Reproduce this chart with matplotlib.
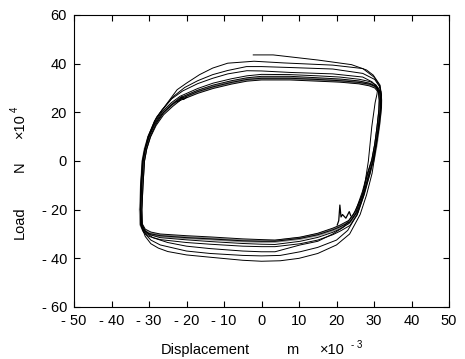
import matplotlib.pyplot as plt

plt.rcParams['font.family'] = ['Liberation Sans', 'DejaVu Sans']

# outer cycles (displacement x1e-3 m, load x1e4 N)
loop1_x = [31.5, 30.0, 27.0, 19.0, 6.0, -2.0, -9.0, -13.0, -16.5, -20.0, -22.5, -26.0, -28.0, -29.8, -31.0, -31.6,
           -32.0, -32.2, -32.0, -31.0, -29.5, -27.5, -25.0, -20.0, -14.0, -5.0, 0.0, 5.0, 10.0, 15.0, 20.0, 23.5,
           26.3, 28.0, 29.5, 30.5, 31.5, 32.0, 32.0, 31.5]
loop1_y = [31.0, 34.5, 38.0, 39.4, 40.3, 41.0, 40.2, 38.2, 35.5, 32.0, 29.3, 22.0, 18.0, 11.0, 5.0, 0.0,
           -10.0, -20.0, -27.0, -31.0, -34.0, -35.8, -37.2, -38.6, -39.5, -40.8, -41.2, -41.0, -40.0, -38.0, -34.5, -30.0,
           -22.0, -14.0, -5.0, 5.0, 15.0, 22.0, 27.0, 31.0]

loop2_x = [31.5, 30.2, 27.0, 19.0, 8.0, 0.0, -4.0, -9.0, -13.0, -17.0, -20.5, -23.5, -26.5, -28.5, -30.2, -31.2,
           -31.7, -32.2, -32.3, -32.0, -31.0, -29.5, -27.0, -20.0, -13.7, -5.0, 0.0, 5.0, 10.3, 15.0, 20.0, 23.0,
           25.5, 27.3, 29.0, 30.3, 31.3, 31.8, 31.9, 31.5]
loop2_y = [30.5, 33.5, 36.0, 37.8, 38.4, 38.8, 38.8, 37.2, 35.5, 33.0, 30.2, 26.5, 21.0, 16.5, 10.0, 4.0,
           0.0, -10.0, -20.0, -26.5, -30.0, -32.5, -34.5, -37.0, -38.0, -38.8, -39.0, -38.8, -37.3, -35.5, -32.5, -28.5,
           -22.0, -14.0, -5.0, 5.0, 15.0, 22.0, 27.0, 30.5]

loop3_x = [31.0, 29.5, 27.0, 19.0, 7.6, 0.0, -3.9, -9.0, -13.0, -17.0, -21.0, -24.0, -26.5, -28.5, -30.3, -31.3,
           -31.8, -32.2, -32.3, -31.8, -30.8, -29.0, -25.0, -20.0, -13.7, -5.0, 0.0, 3.6, 10.3, 15.0, 19.0, 22.0,
           24.5, 26.0, 27.2, 28.5, 29.4, 30.3, 30.8, 31.0]
loop3_y = [30.0, 32.5, 34.5, 35.8, 36.4, 37.0, 37.1, 35.8, 34.0, 31.8, 28.8, 25.5, 21.0, 16.5, 10.0, 4.0,
           0.0, -10.0, -20.0, -26.5, -29.5, -31.5, -33.5, -35.0, -36.0, -37.0, -37.3, -37.3, -34.5, -33.0, -30.0, -27.0,
           -22.0, -17.0, -13.0, 0.0, 14.0, 24.0, 27.5, 30.0]

# dense band of stabilised cycles
band_x1 = [31.5, 30.5, 29.0, 26.0, 20.9, 15.0, 7.6, 0.0, -3.9, -8.0, -12.9, -17.0, -21.7, -24.0, -26.5,
           -28.5, -30.0, -31.0, -31.6, -32.0, -32.3, -32.2, -31.5, -30.0, -27.0, -20.0, -13.7, -5.0, 0.0,
           3.6, 10.3, 15.0, 19.0, 21.0, 23.6, 25.5, 27.3, 28.5, 29.8, 30.6, 31.2, 31.7, 31.8, 31.5]
band_x2 = [31.2, 30.2, 28.7, 26.0, 20.9, 15.0, 7.6, 0.0, -3.9, -8.0, -12.9, -17.0, -21.7, -23.7, -26.1,
           -28.1, -29.6, -30.6, -31.2, -31.6, -31.9, -31.8, -31.0, -29.5, -27.0, -20.0, -13.7, -5.0, 0.0,
           3.6, 10.3, 15.0, 19.0, 21.0, 23.3, 25.1, 26.9, 28.1, 29.4, 30.2, 30.8, 31.3, 31.4, 31.2]
band_a_y = [29.0, 31.3, 32.6, 33.6, 34.5, 35.0, 35.5, 35.6, 35.0, 33.8, 32.0, 29.8, 26.6, 24.0, 20.3,
            15.6, 10.4, 5.2, 0.0, -10.0, -20.0, -26.5, -29.2, -31.0, -32.3, -33.5, -34.2, -35.0, -35.2,
            -35.2, -34.0, -32.5, -30.3, -28.8, -26.5, -22.2, -14.0, -6.8, 0.0, 7.0, 14.0, 21.0, 25.2, 29.0]
band_b_y = [28.8, 30.9, 32.0, 32.9, 33.7, 34.2, 34.8, 34.8, 34.2, 33.0, 31.2, 29.1, 26.0, 23.5, 19.9,
            15.3, 10.2, 5.1, 0.0, -10.0, -20.0, -26.2, -28.8, -30.4, -31.5, -32.4, -33.1, -33.9, -34.2,
            -34.3, -33.0, -31.4, -29.3, -27.9, -25.7, -21.6, -13.5, -6.4, 0.2, 7.0, 14.0, 21.0, 25.1, 28.8]
band_c_y = [28.5, 30.5, 31.5, 32.3, 33.0, 33.5, 34.0, 34.0, 33.5, 32.3, 30.5, 28.5, 25.5, 23.0, 19.5,
            15.0, 10.0, 5.0, 0.0, -10.0, -20.0, -26.0, -28.4, -29.8, -30.7, -31.5, -32.0, -32.8, -33.0,
            -33.0, -31.8, -30.3, -28.3, -27.0, -25.0, -21.0, -13.0, -6.0, 0.4, 7.0, 14.0, 21.0, 25.0, 28.5]
band_d_y = [28.2, 30.0, 30.9, 31.7, 32.4, 32.8, 33.3, 33.3, 32.8, 31.6, 29.8, 27.8, 24.9, 22.4, 19.0,
            14.6, 9.8, 4.9, 0.0, -10.0, -20.0, -25.8, -28.0, -29.2, -30.0, -30.7, -31.2, -32.0, -32.3,
            -32.5, -31.3, -29.7, -27.6, -26.3, -24.4, -20.5, -12.6, -5.7, 0.6, 7.0, 14.0, 21.0, 24.8, 28.2]

# first loading path and local jumps
init_x = [-2.2, 3.1, 15.0, 24.0, 28.0, 29.8, 31.6, 32.0]
init_y = [43.6, 43.6, 41.5, 39.6, 37.4, 35.3, 31.2, 27.0]
spike_x = [20.2, 20.6, 20.9, 21.2, 21.6, 22.5, 23.4, 23.8]
spike_y = [-26.3, -24.5, -18.1, -23.0, -22.0, -23.5, -20.8, -22.5]
jag_x = [-22.5, -21.6, -21.3, -20.8, -20.0]
jag_y = [24.3, 25.0, 26.4, 25.3, 26.2]

x_ticks = [-50, -40, -30, -20, -10, 0, 10, 20, 30, 40, 50]
y_ticks = [-60, -40, -20, 0, 20, 40, 60]


def tick_text(v):
    return '- %d' % -v if v < 0 else '%d' % v


fig = plt.figure(figsize=(4.65, 3.59), dpi=100)
ax = fig.add_axes([74 / 465, 1 - 307 / 359, 375 / 465, 292 / 359])

lw = 0.7
ax.plot(band_x1, band_c_y, color='#888888', lw=2.2)
for bx, by in [(band_x1, band_a_y), (band_x2, band_b_y), (band_x1, band_c_y), (band_x2, band_d_y)]:
    ax.plot(bx, by, color='black', lw=lw)
for lx, ly in [(loop1_x, loop1_y), (loop2_x, loop2_y), (loop3_x, loop3_y)]:
    ax.plot(lx, ly, color='black', lw=lw)
ax.plot(init_x, init_y, color='black', lw=lw)
ax.plot(spike_x, spike_y, color='black', lw=0.9)
ax.plot(jag_x, jag_y, color='black', lw=0.9)

ax.set_xlim(-50, 50)
ax.set_ylim(-60, 60)
ax.set_xticks(x_ticks)
ax.set_yticks(y_ticks)
ax.set_xticklabels([tick_text(v) for v in x_ticks], fontsize=10.5)
ax.set_yticklabels([tick_text(v) for v in y_ticks], fontsize=10.5)
ax.tick_params(direction='in', top=True, right=True, length=4, width=0.8, pad=5)
for s in ax.spines.values():
    s.set_linewidth(0.8)

# axis labels, placed piece by piece (pixel coordinates of the figure)
W, H = 465.0, 359.0
fig.text(205 / W, 1 - 350 / H, 'Displacement', ha='center', va='center', fontsize=10.5)
fig.text(292 / W, 1 - 350 / H, 'm', ha='center', va='center', fontsize=10.5)
fig.text(332 / W, 1 - 350 / H, '\u00d710', ha='center', va='center', fontsize=10.5)
fig.text(357 / W, 1 - 345 / H, '- 3', ha='center', va='center', fontsize=7)

fig.text(20 / W, 1 - 223 / H, 'Load', ha='center', va='center', rotation=90, fontsize=10.5)
fig.text(20 / W, 1 - 167 / H, 'N', ha='center', va='center', rotation=90, fontsize=10.5)
fig.text(20 / W, 1 - 126 / H, '\u00d710', ha='center', va='center', rotation=90, fontsize=10.5)
fig.text(15 / W, 1 - 109 / H, '4', ha='center', va='center', rotation=90, fontsize=7)

fig.savefig('out.png', dpi=100)
